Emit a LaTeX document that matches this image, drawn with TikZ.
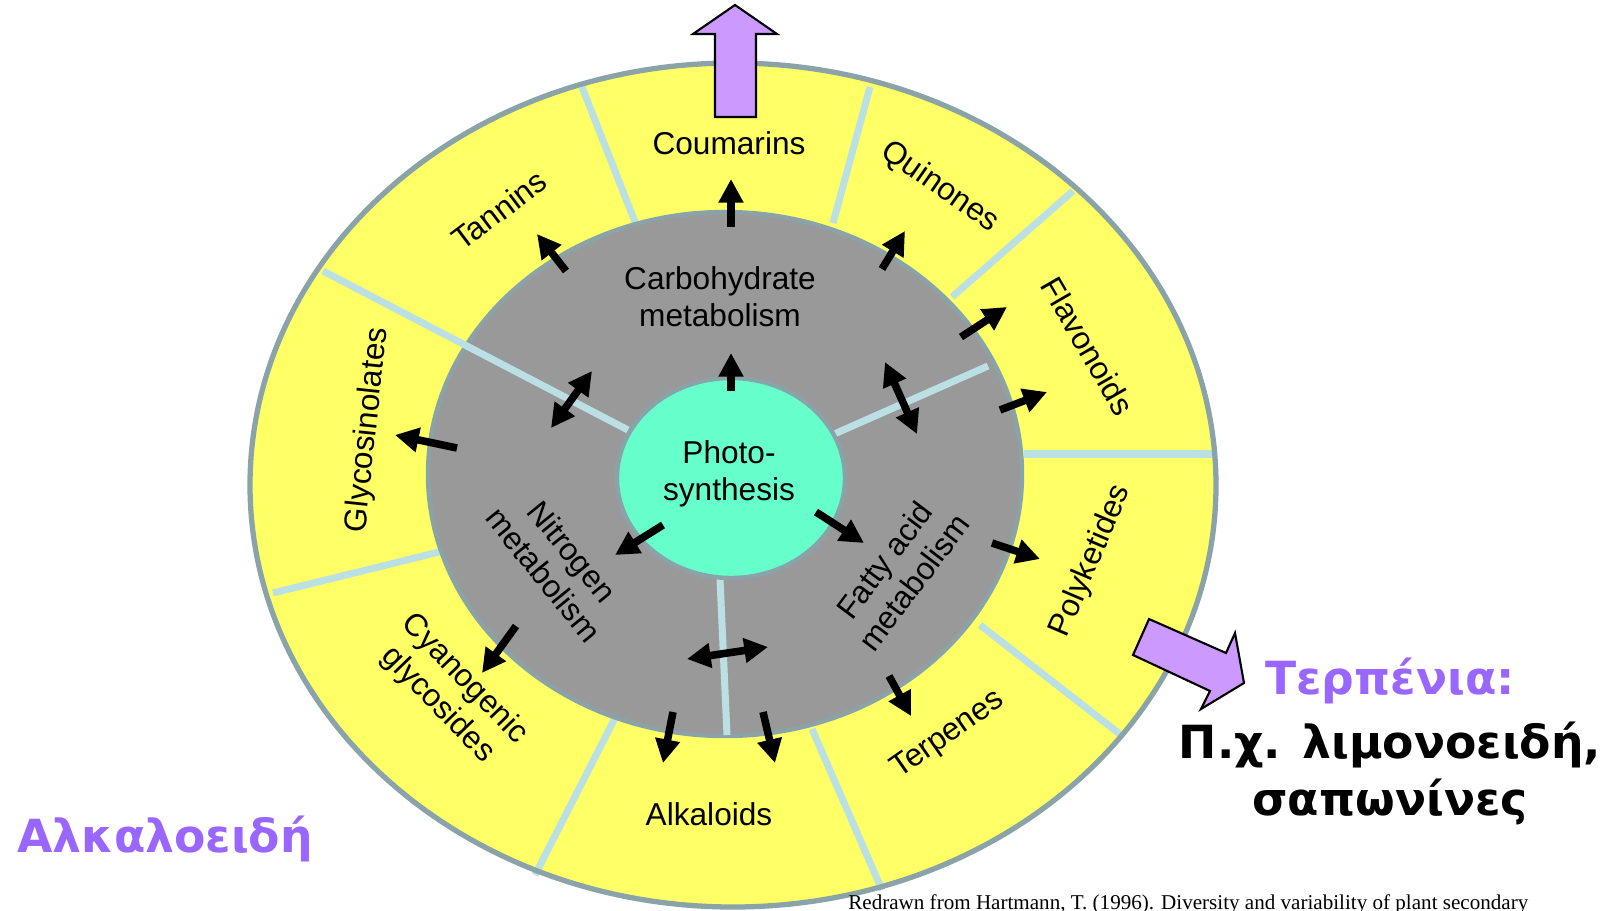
\documentclass[tikz,border=0pt]{standalone}
\usepackage{fontspec}
\setmainfont{Liberation Sans}
\newfontfamily\greekfont{DejaVu Sans}
\newfontfamily\citefont{Liberation Serif}
\usetikzlibrary{arrows.meta}

\definecolor{ringyellow}{HTML}{FFFF66}
\definecolor{coregray}{HTML}{999999}
\definecolor{photogreen}{HTML}{66FFCC}
\definecolor{rimblue}{HTML}{8AA3A8}
\definecolor{divblue}{HTML}{BBE0E4}
\definecolor{lilac}{HTML}{CC99FF}
\definecolor{violet}{HTML}{9966FF}

\tikzset{
  pathway/.style={font=\fontsize{18}{21}\selectfont, align=center, inner sep=0pt},
  flow/.style={line width=4.3pt, -{Triangle[length=13.5pt,width=13.5pt]}},
  twoway/.style={line width=4.3pt, {Triangle[length=13.5pt,width=13.5pt]}-{Triangle[length=13.5pt,width=13.5pt]}},
  divider/.style={draw=divblue, line width=4pt},
  bigarrow/.style={fill=lilac, draw=black, line width=1.2pt},
  greektext/.style={font=\greekfont\bfseries\fontsize{26}{32}\selectfont, inner sep=0pt}
}

\begin{document}
\begin{tikzpicture}[x=0.02cm, y=-0.02cm]
  \useasboundingbox (0,0) rectangle (1606,910);

  % outer ring
  \fill[ringyellow] (733,485) ellipse [x radius=483, y radius=422];
  \draw[divider] (582,87) -- (635,222);
  \draw[divider] (870,87) -- (833,223);
  \draw[divider] (1073,191) -- (952,297);
  \draw[divider] (1024,454) -- (1215,454);
  \draw[divider] (980,625) -- (1121,735);
  \draw[divider] (812,729) -- (882,890);
  \draw[divider] (615,718) -- (535,875);
  \draw[divider] (439,552) -- (273,593);

  % metabolism core
  \filldraw[fill=coregray, draw=rimblue, line width=2.5pt] (725,474) ellipse [x radius=297, y radius=262];
  \draw[divider] (323,271) -- (628,430);
  \draw[divider] (832,435) -- (988,366);
  \draw[divider] (720,579) -- (727,735);

  \filldraw[fill=photogreen, draw=rimblue, line width=2.5pt] (731,478) ellipse [x radius=114, y radius=100];
  \draw[rimblue, line width=3pt] (733,485) ellipse [x radius=483, y radius=422];

  % purple arrows
  \filldraw[bigarrow] (735,5) -- (777,34) -- (756,34) -- (756,117) -- (715,117) -- (715,34) -- (693,34) -- cycle;
  \filldraw[bigarrow] (1149,619) -- (1226,653) -- (1235,633) -- (1244,683) -- (1201,709) -- (1210,691) -- (1133,655) -- cycle;

  % texts
  \node[pathway] (photo) at (729,474) {Photo-\\synthesis};
  \node[pathway] (carbo) at (720,297) {Carbohydrate\\metabolism};
  \node[pathway, rotate=-51] (nitro) at (558,563) {Nitrogen\\metabolism};
  \node[pathway, rotate=53] (fatty) at (899,571) {Fatty acid\\metabolism};
  \node[pathway] (coumarins) at (729,143) {Coumarins};
  \node[pathway, rotate=37] (tannins) at (499,210) {Tannins};
  \node[pathway, rotate=-35] (quinones) at (940,187) {Quinones};
  \node[pathway, rotate=-60] (flavonoids) at (1088,346) {Flavonoids};
  \node[pathway, rotate=67] (polyketides) at (1091,561) {Polyketides};
  \node[pathway, rotate=35] (terpenes) at (948,735) {Terpenes};
  \node[pathway] (alkaloids) at (709,814) {Alkaloids};
  \node[pathway, rotate=-46] (cyanogenic) at (451,692) {Cyanogenic\\glycosides};
  \node[pathway, rotate=84] (glycosinolates) at (368,430) {Glycosinolates};

  % small arrows
  \foreach \xa/\ya/\xb/\yb in {731/391/731/353, 731/227/731/179, 566/271/537/234, 882/269/905/231,
                               961/337/1007/307, 1000/410/1047/392, 457/448/395/435, 663/525/615/555,
                               816/512/864/543, 992/543/1040/559, 516/626/482/673, 673/712/663/763,
                               763/712/775/763, 889/676/911/716}
    \draw[flow] (\xa,\ya) -- (\xb,\yb);
  \draw[twoway] (592,371) -- (551,428);
  \draw[twoway] (885,362) -- (917,434);
  \draw[twoway] (687,659) -- (768,647);

  \node[greektext, text=violet, anchor=base west] (alkaloidsgr) at (17,852) {Αλκαλοειδή};
  \node[greektext, text=violet, anchor=base] (terpenia) at (1390,694) {Τερπένια:};
  \node[greektext, anchor=base] (examples) at (1390,758) {Π.χ. λιμονοειδή,};
  \node[greektext, anchor=base] (saponins) at (1390,815) {σαπωνίνες};
  \node[anchor=base west, inner sep=0pt, font=\citefont\fontsize{12}{14}\selectfont] (cite) at (848,909)
    {Redrawn from Hartmann, T. (1996). Diversity and variability of plant secondary};
\end{tikzpicture}
\end{document}
